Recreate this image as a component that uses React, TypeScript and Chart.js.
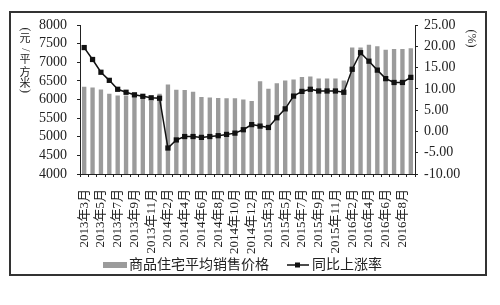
import React, { useEffect, useRef } from 'react';
import { Chart, registerables } from 'chart.js';

Chart.register(...registerables);

const categories = [
  '2013年3月', '2013年4月', '2013年5月', '2013年6月', '2013年7月', '2013年8月', '2013年9月', '2013年10月', '2013年11月', '2013年12月',
  '2014年2月', '2014年3月', '2014年4月', '2014年5月', '2014年6月', '2014年7月', '2014年8月', '2014年9月', '2014年10月', '2014年11月', '2014年12月',
  '2015年2月', '2015年3月', '2015年4月', '2015年5月', '2015年6月', '2015年7月', '2015年8月', '2015年9月', '2015年10月', '2015年11月', '2015年12月',
  '2016年2月', '2016年3月', '2016年4月', '2016年5月', '2016年6月', '2016年7月', '2016年8月', '2016年9月',
];

const avgPrice = [
  6341, 6324, 6270, 6155, 6110, 6110, 6137, 6110, 5969, 6155,
  6403, 6261, 6253, 6208, 6066, 6057, 6040, 6031, 6031, 6000, 5960,
  6492, 6288, 6439, 6510, 6536, 6607, 6616, 6563, 6563, 6563, 6510,
  7397, 7397, 7468, 7432, 7335, 7353, 7353, 7379,
];

const yoyGrowth = [
  19.7, 16.9, 13.9, 12.0, 9.9, 9.2, 8.6, 8.25, 7.9, 7.8,
  -3.9, -2.0, -1.2, -1.2, -1.4, -1.2, -1.0, -0.7, -0.4, 0.4, 1.6,
  1.25, 0.93, 3.2, 5.3, 8.3, 9.4, 9.9, 9.5, 9.5, 9.5, 9.2,
  14.6, 18.5, 16.5, 14.4, 12.4, 11.5, 11.5, 12.7,
];

const seriesNames = ['商品住宅平均销售价格', '同比上涨率'];
const leftTitleChars = ['(', '元', '/', '平', '方', '米', ')'];
const rightTitle = '(%)';

const SERIF = '"Liberation Serif", "Times New Roman", serif';
const CJK = '"Liberation Serif", "Noto Sans CJK SC", serif';
const BAR_COLOR = '#9b9b9b';

const decorPlugin = {
  id: 'decor',
  beforeDraw(chart: any) {
    const ctx = chart.ctx;
    ctx.save();
    ctx.fillStyle = '#ffffff';
    ctx.fillRect(0, 0, chart.width, chart.height);
    ctx.restore();
  },
  afterDraw(chart: any) {
    const ctx = chart.ctx;
    ctx.save();
    ctx.setTransform(1, 0, 0, 1, 0, 0);
    // outer frame
    ctx.strokeStyle = '#333333';
    ctx.lineWidth = 2;
    ctx.strokeRect(10, 12, 476, 263);

    // left vertical title (upright CJK, rotated punctuation)
    ctx.fillStyle = '#222222';
    ctx.textAlign = 'center';
    ctx.textBaseline = 'middle';
    const cx = 25;
    const ys = [29.5, 38, 50, 59, 71.5, 83, 91];
    leftTitleChars.forEach((ch, i) => {
      const punct = ch === '(' || ch === ')' || ch === '/';
      ctx.save();
      ctx.translate(cx, ys[i]);
      if (punct) {
        ctx.rotate(Math.PI / 2);
        ctx.font = `12px ${SERIF}`;
      } else {
        ctx.font = `11px "Noto Sans CJK SC", sans-serif`;
      }
      ctx.fillText(ch, 0, 0);
      ctx.restore();
    });

    // right title rotated
    ctx.save();
    ctx.translate(471, 38.5);
    ctx.rotate(Math.PI / 2);
    ctx.font = `12px ${SERIF}`;
    ctx.fillText(rightTitle, 0, 0);
    ctx.restore();

    // legend
    const ly = 265;
    ctx.fillStyle = BAR_COLOR;
    ctx.fillRect(103, ly - 3, 24, 6);
    ctx.fillStyle = '#222222';
    ctx.font = `14px ${CJK}`;
    ctx.textAlign = 'left';
    ctx.fillText(seriesNames[0], 129, ly + 0.5);
    ctx.strokeStyle = '#111111';
    ctx.lineWidth = 1.5;
    ctx.beginPath();
    ctx.moveTo(287, ly);
    ctx.lineTo(309, ly);
    ctx.stroke();
    ctx.fillStyle = '#111111';
    ctx.fillRect(295, ly - 2.5, 5, 5);
    ctx.fillStyle = '#222222';
    ctx.fillText(seriesNames[1], 312, ly + 0.5);
    ctx.restore();
  },
};

export default function App() {
  const canvasRef = useRef<HTMLCanvasElement | null>(null);

  useEffect(() => {
    document.body.style.margin = '0';
    const canvas = canvasRef.current;
    if (!canvas) return;
    const chart = new Chart(canvas, {
      type: 'bar',
      data: {
        labels: categories,
        datasets: [
          {
            type: 'line',
            label: seriesNames[1],
            data: yoyGrowth,
            yAxisID: 'y1',
            borderColor: '#111111',
            backgroundColor: '#111111',
            borderWidth: 1.5,
            pointStyle: 'rect',
            pointRadius: 3.7,
            pointBorderWidth: 0,
            pointBackgroundColor: '#111111',
            tension: 0,
            order: 0,
          } as any,
          {
            type: 'bar',
            label: seriesNames[0],
            data: avgPrice,
            yAxisID: 'y',
            backgroundColor: BAR_COLOR,
            borderWidth: 0,
            barPercentage: 0.52,
            categoryPercentage: 1,
            order: 1,
          },
        ],
      },
      options: {
        responsive: false,
        animation: false,
        devicePixelRatio: 1,
        layout: { padding: { left: 10, right: 15, top: 25, bottom: 0 } },
        plugins: {
          legend: { display: false },
          tooltip: { enabled: false },
          title: { display: false },
        },
        scales: {
          x: {
            offset: true,
            grid: {
              display: true,
              drawOnChartArea: false,
              drawTicks: true,
              tickLength: 3,
              color: '#222222',
              offset: true,
            },
            border: { display: true, color: '#222222', width: 1 },
            ticks: {
              autoSkip: false,
              maxRotation: 90,
              minRotation: 90,
              padding: 12,
              color: '#222222',
              font: { family: CJK, size: 13 },
              callback: (_v: any, i: number) => (i % 2 === 0 ? categories[i] : ''),
            },
            afterFit: (scale: any) => {
              scale.height = 131;
            },
          },
          y: {
            position: 'left',
            min: 4000,
            max: 8000,
            grid: {
              display: true,
              drawOnChartArea: false,
              drawTicks: true,
              tickLength: 3,
              color: '#222222',
            },
            border: { display: true, color: '#222222', width: 1 },
            ticks: {
              stepSize: 500,
              autoSkip: false,
              padding: 10,
              color: '#222222',
              font: { family: SERIF, size: 14 },
              callback: (v: any) => String(v),
            },
            afterFit: (scale: any) => {
              scale.width = 70;
            },
          },
          y1: {
            position: 'right',
            min: -10,
            max: 25,
            grid: {
              display: true,
              drawOnChartArea: false,
              drawTicks: true,
              tickLength: 3,
              color: '#222222',
            },
            border: { display: true, color: '#222222', width: 1 },
            ticks: {
              stepSize: 5,
              autoSkip: false,
              padding: 6,
              color: '#222222',
              font: { family: SERIF, size: 14 },
              callback: (v: any) => Number(v).toFixed(2),
            },
            afterFit: (scale: any) => {
              scale.width = 70;
            },
          },
        },
      },
      plugins: [decorPlugin],
    });
    return () => chart.destroy();
  }, []);

  return (
    <div style={{ width: 500, height: 305 }}>
      <canvas ref={canvasRef} width={500} height={305} style={{ display: 'block', width: 500, height: 305 }} />
    </div>
  );
}
